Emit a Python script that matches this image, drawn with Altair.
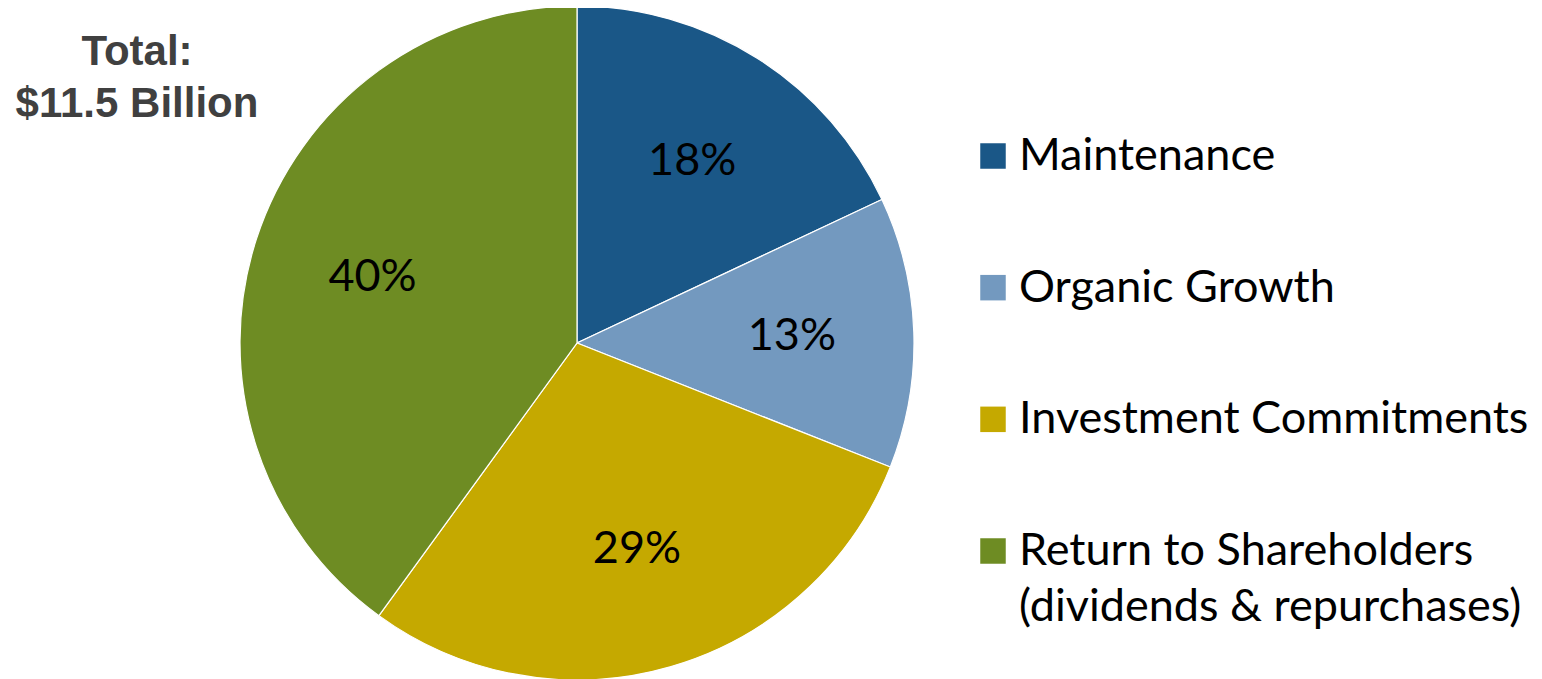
import altair as alt
import pandas as pd

categories = ["Maintenance", "Organic Growth", "Investment Commitments", "Return to Shareholders"]
shares = [18, 13, 29, 40]
pct_labels = ["18%", "13%", "29%", "40%"]
legend_labels = ["Maintenance", "Organic Growth", "Investment Commitments",
                 "Return to Shareholders\n(dividends & repurchases)"]
colors = ["#1A5787", "#7399BF", "#C5A900", "#6E8C23"]
title_text = "Total:\n$11.5 Billion"

df = pd.DataFrame({
    "category": categories,
    "share": shares,
    "pct": pct_labels,
    "legend": legend_labels,
    "idx": list(range(len(categories))),
})

color_scale = alt.Scale(domain=categories, range=colors)
PIE_X, PIE_Y, R = 569, 335, 337

base = alt.Chart(df)

pie = base.mark_arc(radius=R, stroke="white", strokeWidth=1.2).encode(
    theta=alt.Theta("share:Q", stack=True),
    color=alt.Color("category:N", scale=color_scale, legend=None),
    order=alt.Order("idx:Q"),
    x=alt.value(PIE_X),
    y=alt.value(PIE_Y),
)

labels = base.mark_text(radius=215, font="Lato", fontSize=45, color="black",
                        align="center", baseline="middle").encode(
    theta=alt.Theta("share:Q", stack=True),
    order=alt.Order("idx:Q"),
    text="pct:N",
    x=alt.value(PIE_X),
    y=alt.value(PIE_Y),
)

ypos = alt.Y("category:N", scale=alt.Scale(domain=categories, range=[148, 543], padding=0), axis=None)

leg_sq = base.mark_point(shape="square", filled=True, size=650, opacity=1).encode(
    x=alt.value(985),
    y=ypos,
    color=alt.Color("category:N", scale=color_scale, legend=None),
)

leg_txt = base.mark_text(font="Lato", fontSize=45, color="black", align="left",
                         baseline="alphabetic", dy=14, lineBreak="\n", lineHeight=56).encode(
    x=alt.value(1011),
    y=ypos,
    text="legend:N",
)

title = alt.Chart(pd.DataFrame({"t": [title_text]})).mark_text(
    font="Liberation Sans", fontWeight="bold", fontSize=42, color="#404040",
    align="center", baseline="alphabetic", lineBreak="\n", lineHeight=52,
).encode(x=alt.value(129), y=alt.value(57), text="t:N")

chart = alt.layer(pie, labels, leg_sq, leg_txt, title).properties(
    width=1526, height=671, padding=0, autosize=alt.AutoSizeParams(type="none")
).configure_view(stroke=None)

chart.save("out.html", embed_options={"renderer": "svg", "actions": False})
